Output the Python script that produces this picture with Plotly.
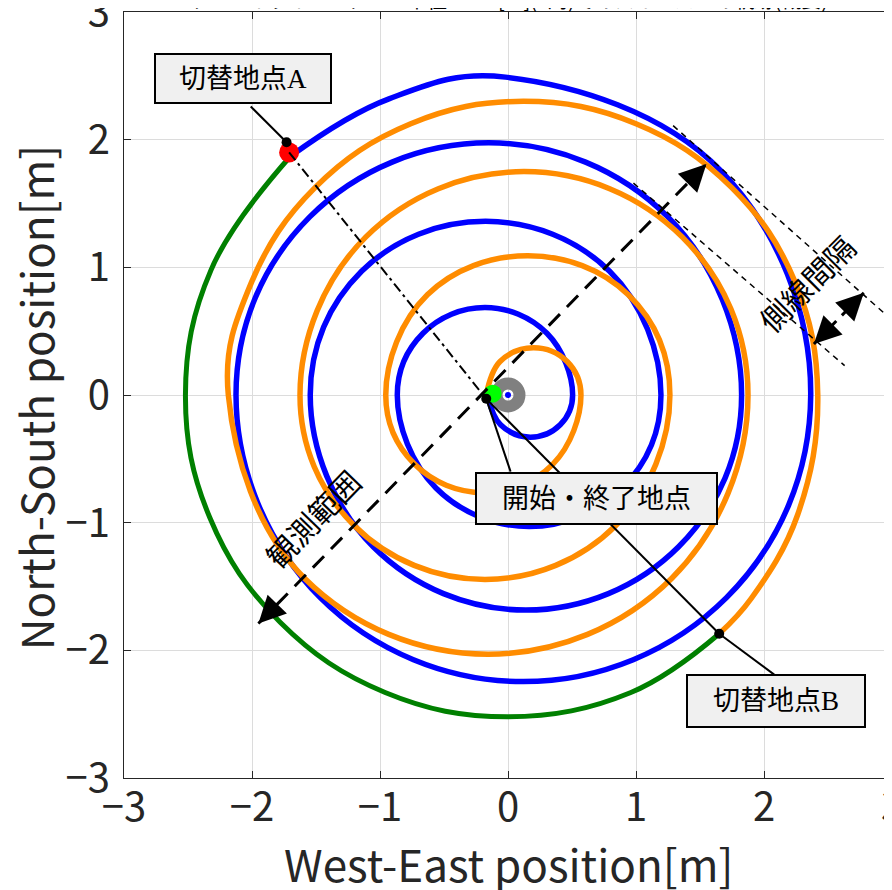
import plotly.graph_objects as go

# ---------------- data ----------------
# Blue: outward spiral (counter-clockwise) from the start point to switch point A
blue_x = [-0.155, -0.058, 0.175, 0.408, 0.505,
          0.304, -0.180, -0.664, -0.865,
          -0.563, 0.165, 0.893, 1.195,
          0.794, -0.175, -1.144, -1.545,
          -1.051, 0.140, 1.331, 1.825,
          1.247, -0.150, -1.547, -2.125,
          -1.467, 0.120, 1.707, 2.365,
          1.660, -0.020, -0.930, -1.700]
blue_y = [-0.020, -0.233, -0.330, -0.233, 0.000,
          0.484, 0.685, 0.484, 0.000,
          -0.728, -1.030, -0.728, 0.000,
          0.969, 1.360, 0.969, 0.000,
          -1.191, -1.685, -1.191, 0.000,
          1.397, 1.975, 1.397, 0.000,
          -1.587, -2.245, -1.587, 0.000,
          1.760, 2.490, 2.320, 1.870]

# Green: outer arc from switch point A to switch point B
green_x = [-1.70, -2.32, -2.52, -2.33, -1.78, -0.96, 0.00, 0.96, 1.65]
green_y = [1.87, 0.98, 0.00, -0.96, -1.78, -2.33, -2.52, -2.33, -1.87]

# Orange: spiral between the start point and switch point B (listed from the start outward)
orange_x = [-0.170, -0.062, 0.200, 0.462, 0.570,
            0.351, -0.190, -0.731, -0.955,
            -0.630, 0.155, 0.940, 1.265,
            0.842, -0.180, -1.202, -1.625,
            -1.112, 0.125, 1.362, 1.875,
            1.280, -0.155, -1.590, -2.185,
            -2.005, -1.506, -0.760, 0.120, 1.000, 1.746, 2.245, 2.420,
            2.263, 1.900, 1.650]
orange_y = [0.000, 0.262, 0.370, 0.262, 0.000,
            -0.541, -0.765, -0.541, 0.000,
            0.785, 1.090, 0.785, 0.000,
            -1.022, -1.445, -1.022, 0.000,
            1.237, 1.750, 1.237, 0.000,
            -1.435, -2.030, -1.435, 0.000,
            0.880, 1.626, 2.125, 2.300, 2.125, 1.626, 0.880, 0.000,
            -0.938, -1.594, -1.870]

center_x, center_y = [0.0], [0.0]
start_x, start_y = [-0.12], [0.01]
start_dot_x, start_dot_y = [-0.17], [-0.03]
switchA_x, switchA_y = [-1.71], [1.90]
switchA_dot_x, switchA_dot_y = [-1.73], [1.98]
switchB_x, switchB_y = [1.65], [-1.87]

ticks = [-3, -2, -1, 0, 1, 2, 3]
tick_text = ["\u22123", "\u22122", "\u22121", "0", "1", "2", "3"]

title_text = "サーベイライン：ターン半径 r=2.5[m](5周)でのスイーパーの軌跡(概要)"
x_title = "West-East position[m]"
y_title = "North-South position[m]"
label_A = "切替地点A"
label_B = "切替地点B"
label_start = "開始・終了地点"
label_range = "観測範囲"
label_spacing = "側線間隔"

FONT = "Noto Sans CJK JP, Noto Sans, sans-serif"
BOXFONT = "Liberation Serif, Noto Sans CJK JP, serif"
AXCOL = "#262626"

fig = go.Figure()

spline = dict(shape="spline", smoothing=1.12)
fig.add_trace(go.Scatter(x=blue_x, y=blue_y, mode="lines",
                         line=dict(color="#0000ff", width=5.5, **spline), hoverinfo="skip"))
fig.add_trace(go.Scatter(x=orange_x, y=orange_y, mode="lines",
                         line=dict(color="#ff8c00", width=5.5, **spline), hoverinfo="skip"))
fig.add_trace(go.Scatter(x=green_x, y=green_y, mode="lines",
                         line=dict(color="#008000", width=5, **spline), hoverinfo="skip"))

# center ring + dot
fig.add_trace(go.Scatter(x=center_x, y=center_y, mode="markers",
                         marker=dict(symbol="circle-open", size=23, color="#808080",
                                     line=dict(width=12, color="#808080"))))
fig.add_trace(go.Scatter(x=center_x, y=center_y, mode="markers",
                         marker=dict(size=6, color="#0000ff")))
# start marker
fig.add_trace(go.Scatter(x=start_x, y=start_y, mode="markers",
                         marker=dict(size=18, color="#00ff00")))
# switch A marker
fig.add_trace(go.Scatter(x=switchA_x, y=switchA_y, mode="markers",
                         marker=dict(size=20, color="#ff0000")))

# dash-dot line from A to start
fig.add_shape(type="line", x0=switchA_x[0], y0=switchA_y[0], x1=start_dot_x[0], y1=start_dot_y[0],
              line=dict(color="black", width=2, dash="10px,4px,3px,4px"))
# solid line from start to B
fig.add_shape(type="line", x0=start_dot_x[0], y0=start_dot_y[0], x1=switchB_x[0], y1=switchB_y[0],
              line=dict(color="black", width=2))
# observation range arrow (dashed)
fig.add_shape(type="line", x0=-1.95, y0=-1.79, x1=1.55, y1=1.81,
              line=dict(color="black", width=3, dash="16px,10px"))
# line spacing guides
fig.add_shape(type="line", x0=1.29, y0=2.11, x1=2.94, y1=0.64,
              line=dict(color="black", width=1.5, dash="6px,5px"))
fig.add_shape(type="line", x0=0.98, y0=1.66, x1=2.63, y1=0.23,
              line=dict(color="black", width=1.5, dash="6px,5px"))
fig.add_shape(type="line", x0=2.39, y0=0.40, x1=2.78, y1=0.80,
              line=dict(color="black", width=3, dash="12px,8px"))
# callout lines
fig.add_shape(type="line", x0=-2.01, y0=2.26, x1=switchA_dot_x[0], y1=switchA_dot_y[0],
              line=dict(color="black", width=2))
fig.add_shape(type="line", x0=0.02, y0=-0.60, x1=start_dot_x[0], y1=start_dot_y[0],
              line=dict(color="black", width=2))
fig.add_shape(type="line", x0=2.08, y0=-2.19, x1=switchB_x[0], y1=switchB_y[0],
              line=dict(color="black", width=2))

# black dots
fig.add_trace(go.Scatter(x=start_dot_x + switchA_dot_x + switchB_x,
                         y=start_dot_y + switchA_dot_y + switchB_y, mode="markers",
                         marker=dict(size=10, color="black")))

ann = []
def arrowhead(x, y, ux, uy):
    L = 24
    ann.append(dict(x=x, y=y, xref="x", yref="y", ax=-ux * L, ay=uy * L,
                    text="", showarrow=True, arrowhead=2, arrowsize=1.8,
                    arrowwidth=3, arrowcolor="black", standoff=0))

arrowhead(1.55, 1.81, 0.698, 0.716)
arrowhead(-1.95, -1.79, -0.698, -0.716)
arrowhead(2.78, 0.80, 0.707, 0.707)
arrowhead(2.39, 0.40, -0.707, -0.707)

def box(x, y, text, w, h, size):
    ann.append(dict(x=x, y=y, xref="x", yref="y", text=text, showarrow=False,
                    font=dict(family=BOXFONT, size=size, color="black"),
                    bgcolor="#f0f0f0", bordercolor="black", borderwidth=2,
                    width=w, height=h, borderpad=0, align="center", valign="middle"))

box(-2.07, 2.48, label_A, 174, 47, 27)
box(0.69, -0.81, label_start, 239, 49, 27)
box(2.09, -2.40, label_B, 176, 50, 27)

ann.append(dict(x=-1.53, y=-0.96, xref="x", yref="y", text=label_range, showarrow=False,
                textangle=-46, font=dict(family=FONT, size=30, color="black")))
ann.append(dict(x=2.33, y=0.88, xref="x", yref="y", text=label_spacing, showarrow=False,
                textangle=-45, font=dict(family=FONT, size=30, color="black")))
ann.append(dict(x=0.5, y=1, xref="paper", yref="paper", yanchor="bottom", yshift=-4,
                text=title_text, showarrow=False,
                font=dict(family=FONT, size=20, color="black")))
# axis titles
ann.append(dict(x=0.5, y=-0.111, xref="paper", yref="paper", xanchor="center", yanchor="middle",
                text=x_title, showarrow=False, font=dict(family=FONT, size=44, color=AXCOL)))
ann.append(dict(x=-0.116, y=0.497, xref="paper", yref="paper", xanchor="center", yanchor="middle",
                text=y_title, showarrow=False, textangle=-90,
                font=dict(family=FONT, size=44, color=AXCOL)))

axis_common = dict(range=[-3, 3], tickvals=ticks, ticktext=tick_text,
                   showgrid=True, gridcolor="#dcdcdc", gridwidth=1,
                   zeroline=False, showline=True, linecolor=AXCOL, linewidth=1,
                   mirror="ticks", ticks="inside", ticklen=7, tickcolor=AXCOL,
                   tickfont=dict(family=FONT, size=40, color=AXCOL),
                   ticklabeloverflow="allow",
                   automargin=False, fixedrange=True)

# the page body adds an 8px margin, so the figure is sized to fit the 892x890 window
fig.update_layout(
    width=884, height=882,
    margin=dict(l=116, r=0, t=4, b=112),
    paper_bgcolor="white", plot_bgcolor="white",
    showlegend=False,
    xaxis=dict(**axis_common, ticklabelstandoff=-6),
    yaxis=dict(**axis_common, ticklabelstandoff=5),
    annotations=ann,
)

fig.write_html("out.html")
